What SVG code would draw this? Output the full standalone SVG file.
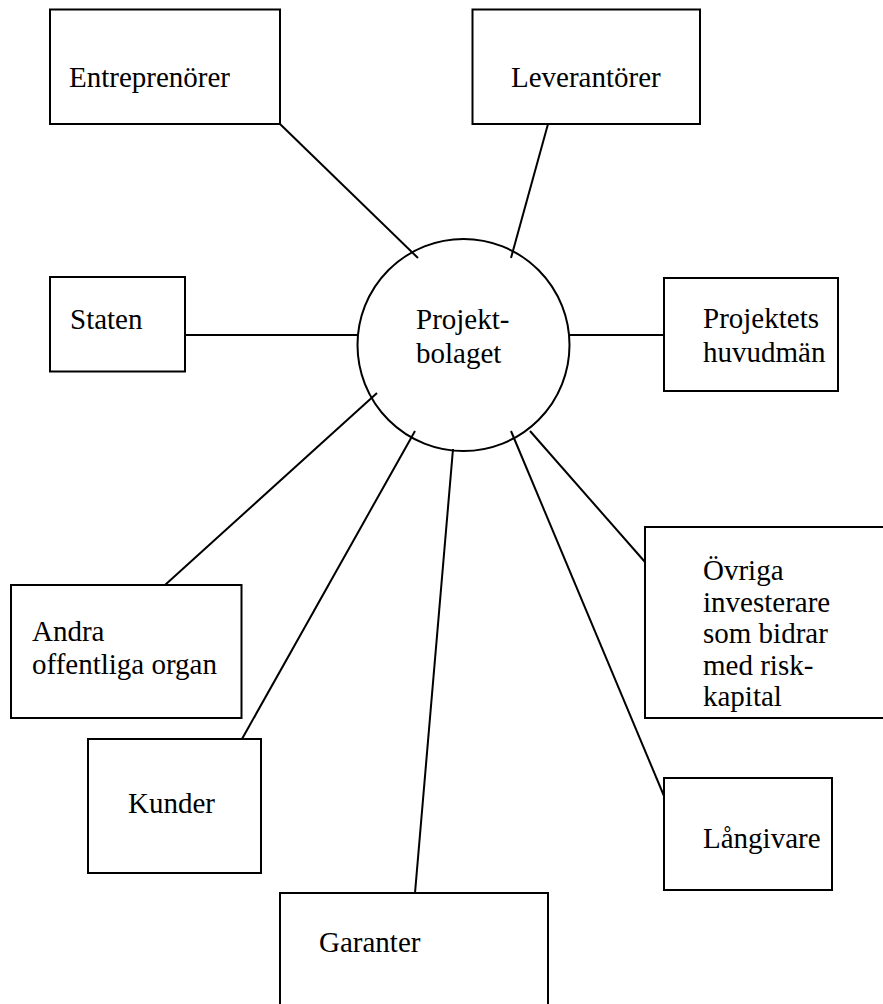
<svg xmlns="http://www.w3.org/2000/svg" width="883" height="1004" viewBox="0 0 883 1004">
<style>
.box{fill:#fff;stroke:#000;stroke-width:2}
.hub{fill:#fff;stroke:#000;stroke-width:2}
.t{font-family:"Liberation Serif","Times New Roman",serif;font-size:29px;fill:#000}
#connectors line{stroke:#000;stroke-width:2}
</style>
<rect width="883" height="1004" fill="#fff"/>
<g id="connectors">
<line x1="280" y1="124" x2="418" y2="258"/>
<line x1="548" y1="124" x2="511" y2="258"/>
<line x1="185" y1="335" x2="358" y2="335"/>
<line x1="569" y1="335" x2="664" y2="335"/>
<line x1="377" y1="393" x2="165" y2="585"/>
<line x1="415" y1="431" x2="242" y2="739"/>
<line x1="453" y1="449" x2="415" y2="893"/>
<line x1="511" y1="431" x2="664" y2="796"/>
<line x1="530" y1="431" x2="645" y2="562"/>
</g>
<g id="hub">
<circle class="hub" cx="463.5" cy="345" r="106" fill="none" style="fill:none"/>
<text class="t" x="416" y="329">Projekt-</text>
<text class="t" x="416" y="363">bolaget</text>
</g>
<g id="entreprenorer">
<rect class="box" x="50" y="9.5" width="230" height="114.5"/>
<text class="t" x="69" y="87">Entreprenörer</text>
</g>
<g id="leverantorer">
<rect class="box" x="472.5" y="9.5" width="227.5" height="114.5"/>
<text class="t" x="511" y="87">Leverantörer</text>
</g>
<g id="staten">
<rect class="box" x="50" y="277" width="135" height="94.5"/>
<text class="t" x="70" y="329">Staten</text>
</g>
<g id="huvudman">
<rect class="box" x="664" y="278" width="174" height="113"/>
<text class="t" x="703" y="328">Projektets</text>
<text class="t" x="703" y="362">huvudmän</text>
</g>
<g id="ovriga">
<rect class="box" x="645" y="527" width="260" height="191"/>
<text class="t" x="703" y="580">Övriga</text>
<text class="t" x="703" y="612">investerare</text>
<text class="t" x="703" y="643">som bidrar</text>
<text class="t" x="703" y="675">med risk-</text>
<text class="t" x="703" y="706">kapital</text>
</g>
<g id="andra">
<rect class="box" x="11" y="585" width="230.5" height="133"/>
<text class="t" x="32" y="641">Andra</text>
<text class="t" x="32" y="674">offentliga organ</text>
</g>
<g id="kunder">
<rect class="box" x="88" y="739" width="173" height="134"/>
<text class="t" x="128" y="813">Kunder</text>
</g>
<g id="langivare">
<rect class="box" x="664" y="778" width="168" height="112"/>
<text class="t" x="703" y="848">Långivare</text>
</g>
<g id="garanter">
<rect class="box" x="280" y="893" width="268" height="130"/>
<text class="t" x="319" y="952">Garanter</text>
</g>
</svg>
